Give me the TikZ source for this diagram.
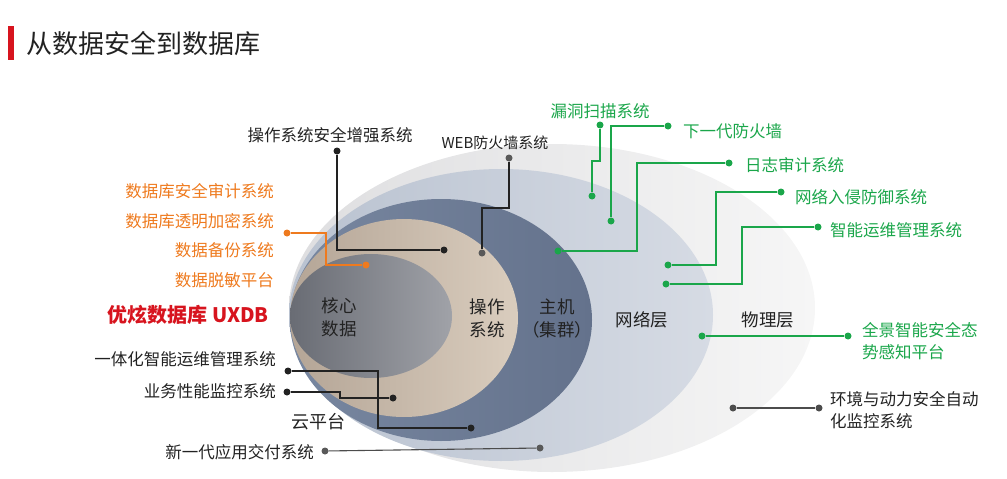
\documentclass[tikz,border=0pt]{standalone}
\usepackage{fontspec}
\setmainfont{Noto Sans CJK SC}
\definecolor{gr}{HTML}{1AA64A}
\definecolor{org}{HTML}{EE7A1E}
\definecolor{rd}{HTML}{D7141E}
\definecolor{dk}{HTML}{222222}
\begin{document}
\begin{tikzpicture}[x=1pt,y=-1pt,
  lab/.style={font=\fontsize{16.5}{19}\selectfont,text=dk,inner sep=0pt},
  glab/.style={lab,text=gr},
  olab/.style={lab,text=org},
  inl/.style={font=\fontsize{17.5}{23}\selectfont,text=dk,align=center,inner sep=0pt},
  dot/.style={circle,fill=dk,inner sep=0pt,minimum size=7pt},
  gdot/.style={dot,fill=gr},
  odot/.style={dot,fill=org},
  ln/.style={draw=dk,line width=1.1pt},
  gln/.style={draw=gr,line width=1.1pt},
  oln/.style={draw=org,line width=1.1pt}]
\useasboundingbox (0,0) rectangle (1007,479);
% title
\fill[rd] (8,26) rectangle (14,60);
\node[anchor=west,inner sep=0pt,font=\fontsize{26}{30}\selectfont,text=dk] (title) at (26,44) {从数据安全到数据库};
% ellipses
\shade[left color={rgb,255:red,222;green,222;blue,224},right color={rgb,255:red,246;green,246;blue,246}] (552,308) ellipse [x radius=263,y radius=164];
\shade[left color={rgb,255:red,185;green,194;blue,208},right color={rgb,255:red,214;green,219;blue,228}] (501,315) ellipse [x radius=212,y radius=146];
\shade[left color={rgb,255:red,120;green,135;blue,160},right color={rgb,255:red,100;green,114;blue,140}] (441,320) ellipse [x radius=151,y radius=121];
\shade[left color={rgb,255:red,180;green,165;blue,150},right color={rgb,255:red,218;green,205;blue,190}] (404,318) ellipse [x radius=114,y radius=99];
\shade[left color={rgb,255:red,105;green,108;blue,116},right color={rgb,255:red,160;green,162;blue,168}] (371,316) ellipse [x radius=81,y radius=62];
% inner labels
\node[inl] (core) at (339,317) {核心\\数据};
\node[inl] (os) at (487,318) {操作\\系统};
\node[inl] (host) at (557,318) {主机\\（集群）};
\node[inl] (net) at (642,320) {网络层};
\node[inl] (phy) at (768,320) {物理层};
\node[inl,font=\fontsize{18}{22}\selectfont] (cloud) at (318,422) {云平台};
\node[anchor=east,inner sep=0pt,font=\fontsize{20}{24}\selectfont\bfseries,text=rd] (uxdb) at (269,315) {优炫数据库 UXDB};
% black connectors
\node[lab] (t1) at (330,135) {操作系统安全增强系统};
\node[dot] (a1) at (337,151) {}; \node[dot] (b1) at (444,250) {};
\draw[ln] (a1) |- (b1);
\node[lab,font=\fontsize{15}{18}\selectfont] (t2) at (495,143) {WEB防火墙系统};
\node[dot,fill=gray!70!black] (a2) at (509,158) {}; \node[dot,fill=gray!70!black] (b2) at (482,253) {};
\coordinate (c2) at (509,208);
\draw[ln] (a2) -- (c2) -| (b2);
% orange
\node[olab,anchor=east] (o1) at (274,191) {数据库安全审计系统};
\node[olab,anchor=east] (o2) at (274,221) {数据库透明加密系统};
\node[olab,anchor=east] (o3) at (274,250) {数据备份系统};
\node[olab,anchor=east] (o4) at (274,280) {数据脱敏平台};
\node[odot] (oa) at (287,233) {}; \node[odot] (ob) at (366,265) {};
\coordinate (oc) at (326,233);
\draw[oln] (oa) -- (oc) |- (ob);
% bottom left
\node[lab,anchor=east] (t3) at (276,359) {一体化智能运维管理系统};
\node[dot] (a3) at (288,371) {}; \node[dot] (b3) at (471,428) {};
\coordinate (c3) at (378,371);
\draw[ln] (a3) -- (c3) |- (b3);
\node[lab,anchor=east] (t4) at (276,391) {业务性能监控系统};
\node[dot] (a4) at (287,392) {}; \node[dot] (b4) at (393,398) {};
\coordinate (c4) at (340,392);
\draw[ln] (a4) -- (c4) |- (b4);
\node[lab,anchor=east] (t5) at (314,452) {新一代应用交付系统};
\node[dot,fill=gray!70!black] (a5) at (325,451) {}; \node[dot,fill=gray!70!black] (b5) at (540,448) {};
\draw[ln,draw=gray!60!black] (a5) -- (b5);
% green
\node[glab] (g1) at (600,111) {漏洞扫描系统};
\node[gdot] (ga1) at (600,125) {}; \node[gdot] (gb1) at (592,196) {};
\coordinate (gc1) at (600,161);
\draw[gln] (ga1) -- (gc1) -| (gb1);
\node[glab,anchor=west] (g2) at (683,131) {下一代防火墙};
\node[gdot] (ga2) at (668,126) {}; \node[gdot] (gb2) at (611,221) {};
\draw[gln] (ga2) -| (gb2);
\node[glab,anchor=west] (g3) at (745,165) {日志审计系统};
\node[gdot] (ga3) at (729,163) {}; \node[gdot] (gb3) at (558,251) {};
\coordinate (gc3) at (637,163);
\draw[gln] (ga3) -- (gc3) |- (gb3);
\node[glab,anchor=west] (g4) at (795,197) {网络入侵防御系统};
\node[gdot] (ga4) at (781,192) {}; \node[gdot] (gb4) at (668,265) {};
\coordinate (gc4) at (716,192);
\draw[gln] (ga4) -- (gc4) |- (gb4);
\node[glab,anchor=west] (g5) at (830,230) {智能运维管理系统};
\node[gdot] (ga5) at (818,227) {}; \node[gdot] (gb5) at (666,284) {};
\coordinate (gc5) at (742,227);
\draw[gln] (ga5) -- (gc5) |- (gb5);
\node[glab,anchor=west,align=left,font=\fontsize{16.5}{22}\selectfont] (g6) at (862,341) {全景智能安全态\\势感知平台};
\node[gdot] (ga6) at (702,336) {}; \node[gdot] (gb6) at (848,336) {};
\draw[gln] (ga6) -- (gb6);
\node[lab,anchor=west,align=left,font=\fontsize{16.5}{22}\selectfont] (t7) at (830,410) {环境与动力安全自动\\化监控系统};
\node[dot,fill=gray!60!black] (a7) at (733,408) {}; \node[dot,fill=gray!60!black] (b7) at (819,408) {};
\draw[ln,draw=gray!60!black] (a7) -- (b7);
\end{tikzpicture}
\end{document}
